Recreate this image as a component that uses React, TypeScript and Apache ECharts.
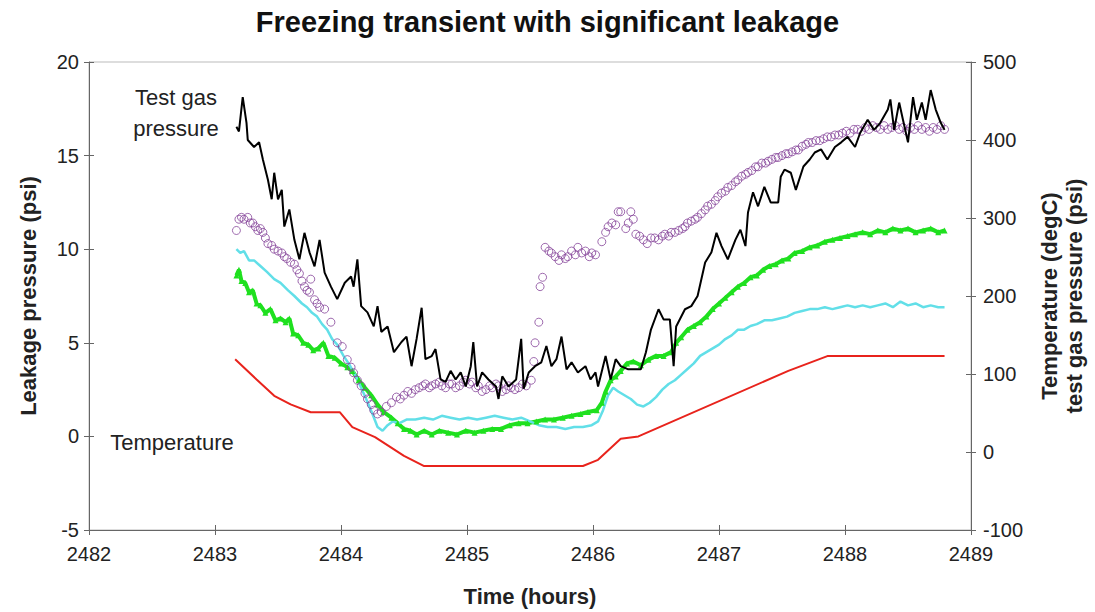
import React, { useEffect, useRef } from "react";
import * as echarts from "echarts";

const titleText = "Freezing transient with significant leakage";
const xTicks = { min: 2482, max: 2489, interval: 1 };
const leftTicks = { min: -5, max: 20, interval: 5 };
const rightTicks = { min: -100, max: 500, interval: 100 };

// Temperature (degC) – right axis
const temperature: [number, number][] = [
  [2483.16, 119], [2483.33, 93], [2483.47, 72], [2483.6, 61], [2483.76, 51], [2483.87, 51],
  [2483.99, 51], [2484.09, 32], [2484.27, 19], [2484.5, -5], [2484.66, -18], [2485.92, -18],
  [2486.04, -10], [2486.22, 17], [2486.36, 20], [2487.55, 104], [2487.86, 123], [2488.79, 123],
];

// Test gas pressure (psi) – right axis
const testGas: [number, number][] = [
  [2483.17, 417], [2483.19, 411], [2483.22, 455], [2483.25, 422], [2483.26, 400], [2483.31, 391],
  [2483.35, 397], [2483.38, 375], [2483.42, 349], [2483.45, 324], [2483.47, 358], [2483.5, 324],
  [2483.53, 336], [2483.55, 289], [2483.59, 311], [2483.63, 272], [2483.67, 247], [2483.71, 281],
  [2483.75, 256], [2483.79, 238], [2483.83, 272], [2483.87, 230], [2483.92, 212], [2483.97, 196],
  [2484.03, 217], [2484.08, 225], [2484.1, 212], [2484.13, 247], [2484.16, 187], [2484.21, 179],
  [2484.26, 161], [2484.29, 187], [2484.32, 154], [2484.37, 161], [2484.42, 128], [2484.48, 141],
  [2484.52, 148], [2484.56, 110], [2484.6, 145], [2484.64, 185], [2484.67, 119], [2484.72, 123],
  [2484.75, 132], [2484.79, 93], [2484.83, 90], [2484.87, 104], [2484.91, 93], [2484.95, 102],
  [2484.99, 84], [2485.03, 110], [2485.05, 141], [2485.08, 84], [2485.12, 102], [2485.17, 93],
  [2485.23, 84], [2485.25, 68], [2485.28, 97], [2485.33, 84], [2485.39, 93], [2485.43, 145],
  [2485.45, 81], [2485.49, 102], [2485.54, 110], [2485.59, 115], [2485.63, 136], [2485.67, 110],
  [2485.71, 119], [2485.75, 148], [2485.79, 106], [2485.83, 115], [2485.88, 102], [2485.94, 110],
  [2485.98, 93], [2486.02, 102], [2486.04, 84], [2486.1, 123], [2486.14, 93], [2486.18, 119],
  [2486.22, 110], [2486.28, 106], [2486.38, 106], [2486.42, 128], [2486.46, 157], [2486.52, 183],
  [2486.56, 170], [2486.61, 170], [2486.64, 110], [2486.66, 161], [2486.73, 183], [2486.78, 187],
  [2486.83, 200], [2486.89, 243], [2486.94, 256], [2486.98, 281], [2487.02, 264], [2487.07, 247],
  [2487.13, 272], [2487.17, 285], [2487.21, 264], [2487.23, 307], [2487.27, 333], [2487.31, 315],
  [2487.36, 340], [2487.41, 320], [2487.47, 320], [2487.49, 353], [2487.52, 362], [2487.57, 358],
  [2487.61, 336], [2487.67, 366], [2487.72, 375], [2487.76, 384], [2487.81, 388], [2487.86, 375],
  [2487.92, 391], [2487.97, 397], [2488.02, 404], [2488.08, 391], [2488.12, 409], [2488.18, 426],
  [2488.23, 413], [2488.28, 422], [2488.34, 439], [2488.36, 452], [2488.39, 413], [2488.43, 448],
  [2488.46, 426], [2488.5, 397], [2488.54, 455], [2488.57, 426], [2488.61, 448], [2488.64, 426],
  [2488.68, 464], [2488.72, 439], [2488.76, 422], [2488.79, 413],
];

// Leakage pressure (psi) – left axis, green
const leakGreen: [number, number][] = [
  [2483.17, 8.6], [2483.19, 8.9], [2483.21, 8.3], [2483.24, 8.2], [2483.27, 7.7], [2483.3, 7.8],
  [2483.33, 7.1], [2483.36, 7.0], [2483.4, 6.6], [2483.44, 6.8], [2483.48, 6.2], [2483.52, 6.3],
  [2483.56, 6.1], [2483.59, 6.3], [2483.62, 5.5], [2483.66, 5.4], [2483.7, 5.0], [2483.74, 4.9],
  [2483.78, 4.6], [2483.82, 4.7], [2483.86, 5.0], [2483.9, 4.3], [2483.95, 4.2], [2484.0, 3.9],
  [2484.05, 3.7], [2484.09, 3.5], [2484.14, 3.0], [2484.19, 2.6], [2484.24, 2.2], [2484.29, 1.7],
  [2484.34, 1.3], [2484.4, 1.0], [2484.45, 0.7], [2484.5, 0.4], [2484.55, 0.3], [2484.6, 0.1],
  [2484.66, 0.3], [2484.72, 0.1], [2484.78, 0.3], [2484.85, 0.2], [2484.92, 0.1], [2484.99, 0.3],
  [2485.06, 0.2], [2485.13, 0.3], [2485.2, 0.4], [2485.27, 0.4], [2485.34, 0.6], [2485.41, 0.7],
  [2485.48, 0.7], [2485.55, 0.8], [2485.62, 0.9], [2485.69, 0.9], [2485.76, 1.0], [2485.83, 1.1],
  [2485.9, 1.2], [2485.96, 1.3], [2486.03, 1.4], [2486.07, 1.8], [2486.1, 2.4], [2486.14, 3.0],
  [2486.18, 3.2], [2486.22, 3.5], [2486.27, 3.9], [2486.32, 4.0], [2486.38, 3.8], [2486.44, 4.1],
  [2486.5, 4.3], [2486.56, 4.3], [2486.62, 4.5], [2486.66, 5.0], [2486.7, 5.3], [2486.75, 5.7],
  [2486.8, 5.9], [2486.85, 6.1], [2486.9, 6.4], [2486.95, 6.8], [2487.0, 7.1], [2487.05, 7.4],
  [2487.1, 7.7], [2487.15, 8.0], [2487.2, 8.2], [2487.25, 8.5], [2487.3, 8.6], [2487.35, 8.9],
  [2487.4, 9.1], [2487.45, 9.2], [2487.5, 9.4], [2487.55, 9.5], [2487.6, 9.8], [2487.66, 9.9],
  [2487.72, 10.1], [2487.78, 10.2], [2487.84, 10.4], [2487.9, 10.5], [2487.96, 10.6], [2488.02, 10.7],
  [2488.08, 10.8], [2488.14, 10.9], [2488.2, 10.8], [2488.26, 11.0], [2488.32, 10.9], [2488.38, 11.1],
  [2488.44, 11.0], [2488.5, 11.1], [2488.56, 10.9], [2488.62, 11.0], [2488.68, 11.1], [2488.74, 10.9],
  [2488.79, 11.0],
];

// Leakage pressure (psi) – left axis, cyan
const leakCyan: [number, number][] = [
  [2483.17, 10.0], [2483.2, 9.8], [2483.23, 9.9], [2483.27, 9.4], [2483.31, 9.4], [2483.36, 9.1],
  [2483.41, 8.8], [2483.47, 8.4], [2483.52, 8.2], [2483.58, 7.8], [2483.63, 7.5], [2483.69, 7.1],
  [2483.73, 6.9], [2483.77, 6.6], [2483.81, 6.4], [2483.85, 6.0], [2483.89, 5.7], [2483.93, 5.2],
  [2483.97, 4.9], [2484.02, 4.3], [2484.07, 3.8], [2484.12, 3.2], [2484.16, 2.6], [2484.2, 2.0],
  [2484.25, 1.2], [2484.29, 0.5], [2484.33, 0.3], [2484.37, 0.6], [2484.41, 0.8], [2484.46, 0.7],
  [2484.52, 0.9], [2484.59, 0.9], [2484.66, 1.0], [2484.73, 0.9], [2484.8, 1.1], [2484.87, 1.0],
  [2484.94, 0.9], [2485.01, 1.0], [2485.08, 0.9], [2485.15, 1.0], [2485.22, 1.1], [2485.29, 1.0],
  [2485.36, 0.9], [2485.43, 1.0], [2485.5, 0.8], [2485.57, 0.6], [2485.64, 0.5], [2485.71, 0.5],
  [2485.78, 0.4], [2485.85, 0.5], [2485.92, 0.5], [2485.99, 0.6], [2486.04, 0.8], [2486.08, 1.4],
  [2486.12, 2.2], [2486.16, 2.6], [2486.2, 2.4], [2486.25, 2.2], [2486.3, 2.0], [2486.35, 1.7],
  [2486.4, 1.6], [2486.45, 1.8], [2486.5, 2.1], [2486.55, 2.5], [2486.6, 2.8], [2486.65, 3.0],
  [2486.7, 3.3], [2486.75, 3.6], [2486.8, 3.9], [2486.85, 4.3], [2486.9, 4.5], [2486.95, 4.7],
  [2487.0, 4.9], [2487.05, 5.2], [2487.1, 5.4], [2487.15, 5.7], [2487.2, 5.7], [2487.25, 5.9],
  [2487.3, 6.0], [2487.36, 6.2], [2487.42, 6.2], [2487.48, 6.3], [2487.54, 6.4], [2487.6, 6.6],
  [2487.66, 6.7], [2487.72, 6.8], [2487.78, 6.8], [2487.84, 6.9], [2487.9, 6.8], [2487.96, 6.9],
  [2488.02, 7.0], [2488.08, 6.9], [2488.14, 7.0], [2488.2, 6.9], [2488.26, 7.0], [2488.32, 7.1],
  [2488.38, 6.9], [2488.44, 7.2], [2488.5, 7.0], [2488.56, 7.1], [2488.62, 6.9], [2488.68, 7.0],
  [2488.74, 6.9], [2488.79, 6.9],
];

// Leakage pressure (psi) – left axis, purple circles
const leakPurple: [number, number][] = [
  [2483.17, 11.0], [2483.19, 11.6], [2483.21, 11.7], [2483.23, 11.6], [2483.26, 11.7], [2483.28, 11.4],
  [2483.3, 11.4], [2483.32, 11.2], [2483.34, 11.0], [2483.36, 11.1], [2483.38, 10.9], [2483.4, 10.6],
  [2483.42, 10.3], [2483.45, 10.2], [2483.47, 10.0], [2483.5, 9.9], [2483.53, 9.8], [2483.55, 9.6],
  [2483.57, 9.5], [2483.6, 9.3], [2483.63, 9.2], [2483.65, 8.9], [2483.67, 8.7], [2483.69, 8.3],
  [2483.71, 8.0], [2483.73, 7.8], [2483.75, 7.7], [2483.76, 8.4], [2483.79, 7.3], [2483.81, 7.1],
  [2483.83, 6.9], [2483.87, 6.8], [2483.92, 6.1], [2483.97, 5.0], [2484.01, 4.8], [2484.05, 4.1],
  [2484.08, 3.7], [2484.1, 3.4], [2484.13, 3.0], [2484.16, 2.7], [2484.19, 2.3], [2484.21, 2.0],
  [2484.24, 1.7], [2484.26, 1.4], [2484.29, 1.2], [2484.32, 1.3], [2484.36, 1.6], [2484.4, 1.8],
  [2484.44, 2.1], [2484.47, 2.0], [2484.5, 2.2], [2484.53, 2.4], [2484.56, 2.3], [2484.59, 2.5],
  [2484.62, 2.6], [2484.65, 2.7], [2484.67, 2.8], [2484.7, 2.6], [2484.72, 2.7], [2484.75, 2.8],
  [2484.78, 2.9], [2484.8, 2.7], [2484.83, 2.6], [2484.86, 2.8], [2484.88, 2.8], [2484.91, 2.6],
  [2484.94, 2.7], [2484.97, 2.9], [2484.99, 3.0], [2485.02, 2.8], [2485.04, 2.9], [2485.07, 2.6],
  [2485.09, 2.7], [2485.12, 2.4], [2485.15, 2.5], [2485.18, 2.7], [2485.2, 2.6], [2485.23, 2.8],
  [2485.25, 2.7], [2485.28, 2.4], [2485.31, 2.5], [2485.33, 2.7], [2485.35, 2.6], [2485.38, 2.5],
  [2485.41, 2.6], [2485.44, 2.8], [2485.47, 2.7], [2485.51, 3.0], [2485.53, 4.0], [2485.54, 5.0],
  [2485.57, 6.1], [2485.58, 8.0], [2485.6, 8.5], [2485.62, 10.1], [2485.65, 9.9], [2485.67, 9.8],
  [2485.7, 9.6], [2485.73, 9.4], [2485.75, 9.7], [2485.78, 9.5], [2485.8, 9.6], [2485.83, 9.9],
  [2485.86, 9.7], [2485.88, 10.1], [2485.91, 9.8], [2485.94, 9.9], [2485.97, 9.6], [2485.99, 9.8],
  [2486.02, 9.7], [2486.07, 10.4], [2486.1, 10.9], [2486.12, 11.2], [2486.15, 11.4], [2486.18, 11.3],
  [2486.2, 12.0], [2486.22, 12.0], [2486.26, 11.1], [2486.28, 11.4], [2486.3, 12.0], [2486.32, 11.6],
  [2486.34, 10.8], [2486.37, 10.7], [2486.4, 10.5], [2486.43, 10.3], [2486.46, 10.6], [2486.49, 10.6],
  [2486.52, 10.5], [2486.55, 10.7], [2486.57, 10.8], [2486.6, 10.7], [2486.62, 10.9], [2486.65, 10.9],
  [2486.68, 11.0], [2486.71, 11.1], [2486.73, 11.2], [2486.75, 11.4], [2486.78, 11.5], [2486.81, 11.6],
  [2486.83, 11.7], [2486.86, 11.9], [2486.89, 12.1], [2486.91, 12.3], [2486.94, 12.4], [2486.97, 12.6],
  [2486.99, 12.8], [2487.02, 13.0], [2487.05, 13.1], [2487.07, 13.3], [2487.1, 13.4], [2487.13, 13.6],
  [2487.15, 13.7], [2487.18, 13.9], [2487.21, 14.0], [2487.23, 14.1], [2487.26, 14.2], [2487.29, 14.4],
  [2487.31, 14.4], [2487.34, 14.6], [2487.37, 14.6], [2487.39, 14.7], [2487.42, 14.8], [2487.45, 14.9],
  [2487.47, 14.9], [2487.5, 15.0], [2487.53, 15.1], [2487.55, 15.1], [2487.58, 15.2], [2487.61, 15.3],
  [2487.63, 15.3], [2487.66, 15.5], [2487.69, 15.6], [2487.71, 15.7], [2487.74, 15.7], [2487.77, 15.8],
  [2487.8, 15.8], [2487.83, 15.9], [2487.86, 16.0], [2487.89, 16.0], [2487.92, 16.1], [2487.95, 16.1],
  [2487.98, 16.2], [2488.01, 16.3], [2488.04, 16.2], [2488.07, 16.4], [2488.1, 16.4], [2488.13, 16.3],
  [2488.16, 16.5], [2488.19, 16.4], [2488.22, 16.6], [2488.25, 16.5], [2488.28, 16.4], [2488.31, 16.6],
  [2488.34, 16.4], [2488.37, 16.5], [2488.4, 16.6], [2488.43, 16.4], [2488.46, 16.5], [2488.49, 16.3],
  [2488.52, 16.5], [2488.55, 16.4], [2488.58, 16.6], [2488.61, 16.4], [2488.64, 16.5], [2488.67, 16.3],
  [2488.7, 16.5], [2488.73, 16.4], [2488.76, 16.6], [2488.79, 16.4],
];

const FONT = '"Liberation Sans", Arial, sans-serif';
const AXIS_COLOR = "#666";
const LABEL_COLOR = "#222";

export default function App() {
  const ref = useRef<HTMLDivElement>(null);
  useEffect(() => {
    if (!ref.current) return;
    const chart = echarts.init(ref.current, undefined, { renderer: "svg" });
    const tickLine = { color: AXIS_COLOR, width: 1 };
    const axisLabel = { fontSize: 20, color: LABEL_COLOR, fontFamily: FONT, formatter: (v: number) => String(v) };
    const nameStyle = { fontSize: 22, fontWeight: "bold", color: LABEL_COLOR, fontFamily: FONT };
    chart.setOption({
      animation: false,
      backgroundColor: "#fff",
      title: {
        text: titleText,
        left: "center",
        top: 2,
        textStyle: { fontSize: 29, fontWeight: "bold", color: "#111", fontFamily: FONT },
      },
      grid: { left: 89, right: 123, top: 62, bottom: 81, show: true, borderColor: "#bbb", borderWidth: 1 },
      xAxis: [
        {
          type: "value", ...xTicks, position: "bottom",
          axisLine: { show: true, onZero: false, lineStyle: tickLine },
          axisTick: { show: true, length: 5, lineStyle: tickLine },
          axisLabel: { ...axisLabel, margin: 14 },
          splitLine: { show: false },
          name: "Time (hours)", nameLocation: "middle", nameGap: 55,
          nameTextStyle: nameStyle,
        },
        {
          type: "value", ...xTicks, position: "bottom",
          axisLine: { show: false, onZero: false }, axisTick: { show: true, inside: true, length: 5, lineStyle: tickLine },
          axisLabel: { show: false }, splitLine: { show: false },
        },
      ],
      yAxis: [
        {
          type: "value", ...leftTicks, position: "left",
          axisLine: { show: true, onZero: false, lineStyle: tickLine },
          axisTick: { show: true, length: 5, lineStyle: tickLine },
          axisLabel: { ...axisLabel, margin: 10 },
          splitLine: { show: false },
          name: "Leakage pressure (psi)", nameLocation: "middle", nameGap: 50, nameRotate: 90,
          nameTextStyle: nameStyle,
        },
        {
          type: "value", ...rightTicks, position: "right",
          axisLine: { show: true, onZero: false, lineStyle: tickLine },
          axisTick: { show: true, length: 5, lineStyle: tickLine },
          axisLabel: { ...axisLabel, margin: 12 },
          splitLine: { show: false },
          name: "Temperature (degC)\ntest gas pressure (psi)", nameLocation: "middle", nameGap: 66, nameRotate: 90,
          nameTextStyle: { ...nameStyle, lineHeight: 25 },
        },
        {
          type: "value", ...leftTicks, position: "left",
          axisLine: { show: false, onZero: false }, axisTick: { show: true, inside: true, length: 5, lineStyle: tickLine },
          axisLabel: { show: false }, splitLine: { show: false },
        },
        {
          type: "value", ...rightTicks, position: "right",
          axisLine: { show: false, onZero: false }, axisTick: { show: true, inside: true, length: 5, lineStyle: tickLine },
          axisLabel: { show: false }, splitLine: { show: false },
        },
      ],
      series: [
        {
          name: "Temperature", type: "line", yAxisIndex: 1, data: temperature, showSymbol: false,
          lineStyle: { color: "#e8231c", width: 2 }, z: 2,
        },
        {
          name: "Leakage green", type: "line", yAxisIndex: 0, data: leakGreen,
          showSymbol: true, symbol: "triangle", symbolSize: 6,
          itemStyle: { color: "#1fe01f" },
          lineStyle: { color: "#1fe01f", width: 4 }, z: 2,
        },
        {
          name: "Leakage cyan", type: "line", yAxisIndex: 0, data: leakCyan, showSymbol: false,
          lineStyle: { color: "#62dfe8", width: 2.5 }, z: 2,
        },
        {
          name: "Leakage purple", type: "scatter", yAxisIndex: 0, data: leakPurple, symbol: "circle", symbolSize: 8,
          itemStyle: { color: "rgba(0,0,0,0)", borderColor: "#86459a", borderWidth: 1 }, z: 3,
        },
        {
          name: "Test gas pressure", type: "line", yAxisIndex: 1, data: testGas, showSymbol: false,
          lineStyle: { color: "#000", width: 2 }, z: 4,
        },
      ],
      graphic: [
        { type: "text", x: 176, y: 97, style: { text: "Test gas", fill: LABEL_COLOR, font: `22px ${FONT}`, textAlign: "center", verticalAlign: "middle" } },
        { type: "text", x: 176, y: 128, style: { text: "pressure", fill: LABEL_COLOR, font: `22px ${FONT}`, textAlign: "center", verticalAlign: "middle" } },
        { type: "text", x: 172, y: 442, style: { text: "Temperature", fill: LABEL_COLOR, font: `22px ${FONT}`, textAlign: "center", verticalAlign: "middle" } },
      ],
    });
    return () => chart.dispose();
  }, []);
  return <div ref={ref} style={{ position: "absolute", left: 0, top: 0, width: 1095, height: 612 }} />;
}
